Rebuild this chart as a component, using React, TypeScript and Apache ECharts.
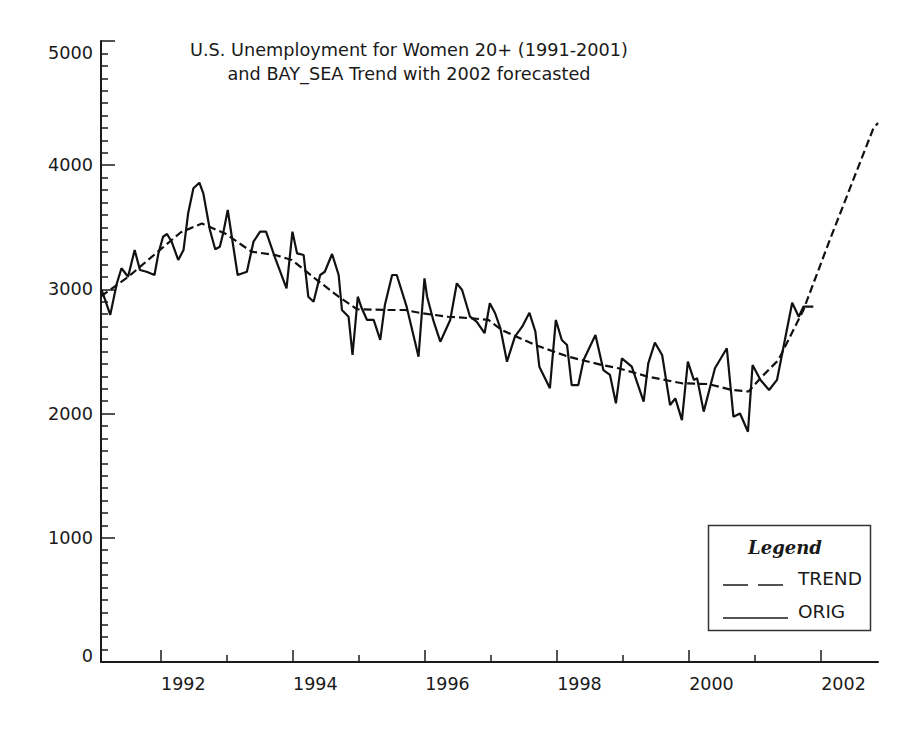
import React, { useEffect, useRef } from "react";
import * as echarts from "echarts";

const TITLE_LINE_1 = "U.S. Unemployment for Women 20+ (1991-2001)";
const TITLE_LINE_2 = "and BAY_SEA Trend with 2002 forecasted";

const ORIG_YEARS = [
  1991.10, 1991.15, 1991.23, 1991.33, 1991.40, 1991.50, 1991.60, 1991.68, 1991.78, 1991.90,
  1991.96, 1992.03, 1992.09, 1992.16, 1992.26, 1992.34, 1992.41, 1992.49, 1992.58, 1992.64,
  1992.74, 1992.82, 1992.89, 1992.94, 1993.01, 1993.16, 1993.30, 1993.40, 1993.50, 1993.59,
  1993.73, 1993.90, 1993.99, 1994.06, 1994.16, 1994.23, 1994.31, 1994.41, 1994.48, 1994.59,
  1994.69, 1994.74, 1994.84, 1994.90, 1994.98, 1995.04, 1995.12, 1995.22, 1995.32, 1995.39,
  1995.50, 1995.57, 1995.72, 1995.90, 1995.99, 1996.03, 1996.13, 1996.23, 1996.38, 1996.48,
  1996.56, 1996.68, 1996.78, 1996.90, 1996.98, 1997.06, 1997.14, 1997.24, 1997.36, 1997.47,
  1997.58, 1997.67, 1997.73, 1997.89, 1997.98, 1998.07, 1998.15, 1998.22, 1998.32, 1998.40,
  1998.58, 1998.70, 1998.80, 1998.89, 1998.98, 1999.13, 1999.31, 1999.38, 1999.48, 1999.59,
  1999.71, 1999.79, 1999.89, 1999.98, 2000.07, 2000.12, 2000.22, 2000.39, 2000.57, 2000.67,
  2000.77, 2000.89, 2000.96, 2001.08, 2001.21, 2001.33, 2001.56, 2001.66, 2001.73, 2001.88,
];
const ORIG_VALUES = [
  2995, 2920, 2795, 3049, 3170, 3102, 3317, 3156, 3142, 3116,
  3290, 3424, 3446, 3384, 3237, 3317, 3613, 3814, 3859, 3773,
  3478, 3323, 3344, 3451, 3639, 3116, 3142, 3384, 3465, 3465,
  3250, 3009, 3465, 3290, 3277, 2941, 2901, 3116, 3142, 3285,
  3116, 2834, 2780, 2472, 2941, 2848, 2754, 2754, 2593, 2874,
  3116, 3116, 2861, 2458, 3089, 2941, 2740, 2579, 2754, 3049,
  2995, 2780, 2740, 2647, 2888, 2808, 2687, 2418, 2620, 2700,
  2812, 2660, 2378, 2204, 2754, 2593, 2552, 2230, 2230, 2432,
  2633, 2351, 2311, 2083, 2445, 2378, 2097, 2405, 2571, 2472,
  2069, 2123, 1948, 2418, 2271, 2284, 2016, 2365, 2526, 1975,
  2001, 1854, 2391, 2271, 2190, 2271, 2893, 2780, 2861, 2861,
];

const TREND_YEARS = [
  1991.09, 1991.50, 1992.01, 1992.30, 1992.62, 1992.97, 1993.37, 1993.73, 1993.98, 1994.33,
  1994.69, 1994.97, 1995.44, 1995.70, 1995.95, 1996.35, 1996.71, 1996.96, 1997.16, 1997.67,
  1998.17, 1998.68, 1998.93, 1999.38, 1999.89, 2000.29, 2000.65, 2000.90, 2001.10, 2001.35,
  2001.73, 2002.11, 2002.79, 2002.86,
];
const TREND_VALUES = [
  2945, 3100, 3330, 3460, 3530, 3450, 3304, 3277, 3237, 3089,
  2941, 2840, 2834, 2834, 2808, 2780, 2767, 2754, 2673, 2552,
  2458, 2391, 2365, 2297, 2244, 2238, 2190, 2178, 2297, 2431,
  2834, 3371, 4297, 4340,
];

const X_MIN = 1991.09;
const X_MAX = 2002.86;
const X_LABEL_YEARS = [1992, 1994, 1996, 1998, 2000, 2002];
const X_MINOR_YEARS = [1993, 1995, 1997, 1999, 2001];
const Y_MIN = 0;
const Y_MAX = 5000;
const Y_STEP = 1000;

const LEGEND_TITLE = "Legend";
const LEGEND_NAMES = ["TREND", "ORIG"];

const FONT = "'DejaVu Sans', sans-serif";
const INK = "#1a1a1a";

export default function App() {
  const ref = useRef<HTMLDivElement>(null);

  useEffect(() => {
    if (!ref.current) return;
    const chart = echarts.init(ref.current, null, { renderer: "svg" });

    const orig = ORIG_YEARS.map((x, i) => [x, ORIG_VALUES[i]]);
    const trend = TREND_YEARS.map((x, i) => [x, TREND_VALUES[i]]);

    const option: any = {
      animation: false,
      backgroundColor: "#ffffff",
      grid: { left: 101, right: 34, top: 41, bottom: 67, containLabel: false, outerBoundsMode: "none" },
      xAxis: [
        {
          type: "value",
          min: X_MIN,
          max: X_MAX,
          position: "bottom",
          axisLine: { show: true, lineStyle: { color: INK, width: 2 } },
          axisTick: {
            show: true,
            inside: true,
            length: 12,
            customValues: X_LABEL_YEARS,
            lineStyle: { color: INK, width: 1.5 },
          },
          axisLabel: {
            show: true,
            customValues: X_LABEL_YEARS,
            align: "left",
            margin: 13,
            color: INK,
            fontFamily: FONT,
            fontSize: 17.5,
            formatter: (v: number) => String(Math.round(v)),
          },
          splitLine: { show: false },
        },
        {
          type: "value",
          min: X_MIN,
          max: X_MAX,
          position: "bottom",
          offset: 0,
          axisLine: { show: false },
          axisTick: {
            show: true,
            inside: true,
            length: 7,
            customValues: X_MINOR_YEARS,
            lineStyle: { color: INK, width: 1.5 },
          },
          axisLabel: { show: false },
          splitLine: { show: false },
        },
      ],
      yAxis: {
        type: "value",
        min: Y_MIN,
        max: Y_MAX,
        interval: Y_STEP,
        axisLine: { show: true, lineStyle: { color: INK, width: 2 } },
        axisTick: { show: true, inside: true, length: 14, lineStyle: { color: INK, width: 1.5 } },
        minorTick: { show: true, splitNumber: 10, length: 7, lineStyle: { color: INK, width: 1.5 } },
        axisLabel: {
          color: INK,
          fontFamily: FONT,
          fontSize: 17.7,
          margin: 8,
          formatter: (v: number) => {
            if (v === Y_MAX) return "{top|" + v + "}";
            if (v === Y_MIN) return "{bot|" + v + "}";
            return String(v);
          },
          rich: {
            top: { padding: [24, 0, 0, 0], fontFamily: FONT, fontSize: 17.7, color: INK },
            bot: { padding: [0, 0, 12, 0], fontFamily: FONT, fontSize: 17.7, color: INK },
          },
        },
        splitLine: { show: false },
      },
      series: [
        {
          name: "ORIG",
          type: "line",
          data: orig,
          showSymbol: false,
          symbol: "none",
          lineStyle: { color: "#111", width: 2.2 },
          z: 3,
        },
        {
          name: "TREND",
          type: "line",
          data: trend,
          showSymbol: false,
          symbol: "none",
          lineStyle: { color: "#111", width: 2.2, type: [8, 4] },
          z: 4,
        },
      ],
      graphic: [
        {
          type: "text",
          x: 409,
          y: 50,
          style: {
            text: TITLE_LINE_1,
            fill: INK,
            font: "17.7px " + FONT,
            textAlign: "center",
            textVerticalAlign: "middle",
          },
        },
        {
          type: "text",
          x: 409,
          y: 74,
          style: {
            text: TITLE_LINE_2,
            fill: INK,
            font: "17.7px " + FONT,
            textAlign: "center",
            textVerticalAlign: "middle",
          },
        },
        {
          type: "rect",
          shape: { x: 708.5, y: 525.5, width: 162, height: 105 },
          style: { fill: "#ffffff", stroke: "#333", lineWidth: 1.5 },
          z: 10,
        },
        {
          type: "text",
          x: 785,
          y: 547,
          z: 11,
          style: {
            text: LEGEND_TITLE,
            fill: INK,
            font: "italic bold 18px 'DejaVu Serif', serif",
            textAlign: "center",
            textVerticalAlign: "middle",
          },
        },
        {
          type: "line",
          z: 11,
          shape: { x1: 723, y1: 585, x2: 783, y2: 585 },
          style: { stroke: INK, lineWidth: 1.5, lineDash: [25, 10] },
        },
        {
          type: "text",
          x: 798,
          y: 578,
          z: 11,
          style: {
            text: LEGEND_NAMES[0],
            fill: INK,
            font: "18.5px " + FONT,
            textAlign: "left",
            textVerticalAlign: "middle",
          },
        },
        {
          type: "line",
          z: 11,
          shape: { x1: 723, y1: 618, x2: 788, y2: 618 },
          style: { stroke: INK, lineWidth: 1.5 },
        },
        {
          type: "text",
          x: 798,
          y: 611,
          z: 11,
          style: {
            text: LEGEND_NAMES[1],
            fill: INK,
            font: "18.5px " + FONT,
            textAlign: "left",
            textVerticalAlign: "middle",
          },
        },
      ],
    };

    chart.setOption(option);
    return () => chart.dispose();
  }, []);

  return (
    <div
      ref={ref}
      style={{ position: "absolute", left: 0, top: 0, width: 912, height: 729, background: "#fff" }}
    />
  );
}
